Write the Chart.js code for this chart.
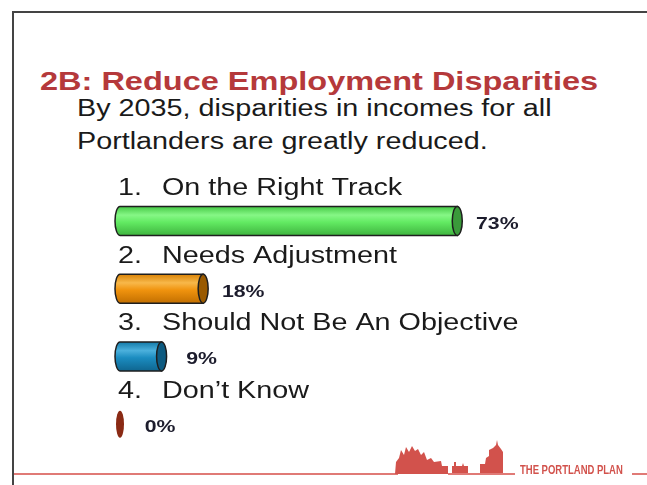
<!DOCTYPE html>
<html>
<head>
<meta charset="utf-8">
<script src="https://cdn.jsdelivr.net/npm/chart.js@4.4.1/dist/chart.umd.min.js"></script>
<style>
  html, body { margin: 0; padding: 0; background: #fff; overflow: hidden; }
  #wrap { position: relative; width: 647px; height: 485px; overflow: hidden; font-family: "Liberation Sans", Arial, sans-serif; }
  #deco { position: absolute; left: 0; top: 0; }
  #chart { position: absolute; left: 0; top: 0; }
  .txt { position: absolute; white-space: nowrap; transform-origin: left top; transform: scaleX(1.25); }
  #title { left: 40px; top: 68px; font-size: 26px; font-weight: bold; color: #b5393b; line-height: 26px; }
  #sub { left: 77px; top: 92px; font-size: 23px; color: #1a1a1a; line-height: 33px; }
  #brand { position: absolute; left: 520px; top: 463px; white-space: nowrap; font-family: "Liberation Sans", Arial, sans-serif; font-weight: bold; font-size: 13px; color: #d2524c; line-height: 14px; transform-origin: left top; transform: scaleX(0.73); }
</style>
</head>
<body>
<div id="wrap">
  <svg id="deco" width="647" height="485">
    <path d="M13,485 L13,12 L647,12" fill="none" stroke="#444" stroke-width="2"/>
    <line x1="14" y1="474" x2="398" y2="474" stroke="#e07a76" stroke-width="2"/>
    <path fill="#d2524c" d="M395,474 L396,462 L399,458 L401,450 L404,455 L406,447 L409,452 L412,446 L415,451 L418,449 L421,455 L424,452 L427,460 L431,458 L434,462 L441,461 L442,466 L448,466 L448,474 Z"/>
    <path fill="#d2524c" d="M452,474 L452,466 L454,466 L454,462 L456,462 L456,466 L462,466 L463,463 L464,466 L468,466 L468,474 Z"/>
    <path fill="#d2524c" d="M480,474 L480,464 L485,464 L486,458 L489,456 L489,450 L493,448 L496,445 L497,440 L498,445 L501,449 L503,452 L503,474 Z"/>
    <line x1="448" y1="474" x2="515" y2="474" stroke="#e07a76" stroke-width="2"/>
    <line x1="632" y1="474" x2="647" y2="474" stroke="#e07a76" stroke-width="2"/>
  </svg>
  <div id="title" class="txt">2B: Reduce Employment Disparities</div>
  <div id="sub" class="txt">By 2035, disparities in incomes for all<br>Portlanders are greatly reduced.</div>
  <canvas id="chart" width="647" height="485"></canvas>
  <div id="brand">THE PORTLAND PLAN</div>
</div>
<script>
// data
const numbers = ['1.', '2.', '3.', '4.'];
const categories = ['On the Right Track', 'Needs Adjustment', 'Should Not Be An Objective', 'Don\u2019t Know'];
const values = [73, 18, 9, 0];
const valueLabels = ['73%', '18%', '9%', '0%'];

// cylinder colours: [shade top, highlight, body, shade bottom], end cap
const bodyColors = [
  ['#45c845', '#86f786', '#62ea62', '#3fb43f'],
  ['#d98205', '#f8b84a', '#f0930e', '#c26f00'],
  ['#137aa8', '#4bb0dc', '#1b8cc0', '#0f6690'],
  ['#7a2010', '#a0402a', '#8a2a14', '#6a1a08']
];
const capColors = ['#3a9a3a', '#9a5a00', '#0d5a80', '#8a2a14'];

const SX = 1.25; // the slide is stretched sideways

function stretchedText(ctx, text, x, y, align) {
  ctx.save();
  ctx.translate(x, y);
  ctx.scale(SX, 1);
  ctx.textAlign = align;
  ctx.fillText(text, 0, 0);
  ctx.restore();
}

const cylinders = {
  id: 'cylinders',
  afterDatasetsDraw(chart) {
    const ctx = chart.ctx;
    const meta = chart.getDatasetMeta(0);
    meta.data.forEach((bar, i) => {
      const { x, y, base, height } = bar.getProps(['x', 'y', 'base', 'height'], true);
      const ry = height / 2;
      const rx = 5;
      ctx.save();
      ctx.lineWidth = 1.5;
      ctx.strokeStyle = '#1e1e1e';
      if (x - base < 1) {
        ctx.beginPath();
        ctx.ellipse(base, y, 4, ry - 1, 0, 0, Math.PI * 2);
        ctx.fillStyle = capColors[i];
        ctx.fill();
      } else {
        const c = bodyColors[i];
        const g = ctx.createLinearGradient(0, y - ry, 0, y + ry);
        g.addColorStop(0, c[0]);
        g.addColorStop(0.3, c[1]);
        g.addColorStop(0.55, c[2]);
        g.addColorStop(1, c[3]);
        ctx.beginPath();
        ctx.moveTo(x, y - ry);
        ctx.lineTo(base, y - ry);
        ctx.ellipse(base, y, rx, ry, 0, -Math.PI / 2, Math.PI / 2, true);
        ctx.lineTo(x, y + ry);
        ctx.closePath();
        ctx.fillStyle = g;
        ctx.fill();
        ctx.stroke();
        ctx.beginPath();
        ctx.ellipse(x, y, rx, ry, 0, 0, Math.PI * 2);
        ctx.fillStyle = capColors[i];
        ctx.fill();
        ctx.stroke();
      }
      ctx.restore();

      // category label above the bar
      ctx.save();
      ctx.fillStyle = '#1a1a1a';
      ctx.font = '23px "Liberation Sans", Arial, sans-serif';
      ctx.textBaseline = 'alphabetic';
      stretchedText(ctx, numbers[i], chart.chartArea.left - 2, y - 26, 'left');
      stretchedText(ctx, categories[i], chart.chartArea.left + 42, y - 26, 'left');
      // value label right of the bar end
      ctx.font = 'bold 17px "Liberation Sans", Arial, sans-serif';
      ctx.fillStyle = '#1c1c2c';
      stretchedText(ctx, valueLabels[i], x + 40, y + 8, 'center');
      ctx.restore();
    });
  }
};

new Chart(document.getElementById('chart'), {
  type: 'bar',
  data: {
    labels: categories,
    datasets: [{
      data: values,
      backgroundColor: 'rgba(0,0,0,0)',
      borderWidth: 0,
      barThickness: 29
    }]
  },
  options: {
    indexAxis: 'y',
    responsive: false,
    animation: false,
    devicePixelRatio: 1,
    layout: { padding: { left: 120, right: 65, top: 187, bottom: 27 } },
    scales: {
      x: { min: 0, max: 100, display: false },
      y: { display: false }
    },
    plugins: {
      legend: { display: false },
      tooltip: { enabled: false }
    }
  },
  plugins: [cylinders]
});
</script>
</body>
</html>
